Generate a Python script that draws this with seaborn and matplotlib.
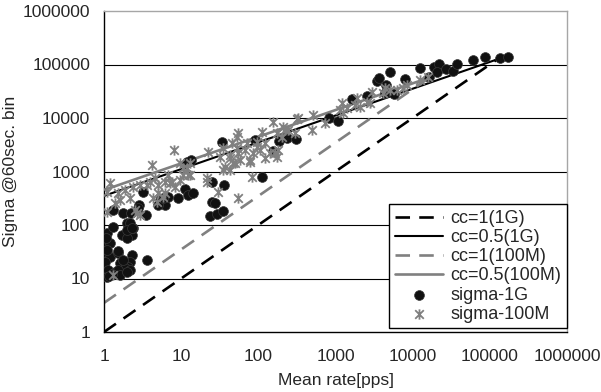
import numpy as np
import pandas as pd
import matplotlib
matplotlib.use("Agg")
import matplotlib.pyplot as plt
from matplotlib.path import Path
import seaborn as sns

# Fitted model lines (end points, straight in log-log space)
cc1_1g_x = [1, 125000]
cc1_1g_y = [1, 125000]
cc05_1g_x = [1, 125000]
cc05_1g_y = [350, 125000]
cc1_100m_x = [1, 16500]
cc1_100m_y = [3.5, 57000]
cc05_100m_x = [1, 16500]
cc05_100m_y = [450, 57000]

# Measured sigma of the 60 s bins, 1G link
sigma_1g_rate = [
    1.03, 1.2, 1.08, 1.2, 1.03, 1.53, 2.28, 2.17, 2.06, 1.61, 1.87, 1.76, 1.13,
    1.08, 1.39, 1.52, 1.61, 2.17, 1.97, 3.57, 1.69, 2.28, 1.97, 1.08, 1.32,
    1.99, 2.37, 2.17, 1.97, 2.28, 1.06, 1.08, 1.53, 1.26, 1.16,
    1.30, 1.74, 2.24, 2.84, 2.78, 3.5, 3.23, 5.3, 6.2, 6.7, 5.0, 5.8, 9.2,
    11.2, 12.2, 14.3, 11.9, 13.4, 33.5, 24.8, 35.8, 24.8, 27.4, 23.6, 28.8,
    34.5, 110, 90, 156, 187, 233, 307, 829, 1065, 1617, 2530, 3410, 3680,
    4500, 5070, 5710, 4365, 7930, 12400, 16200, 18800, 22000, 20400, 26900,
    32900, 37000, 60800, 86100, 135000, 173000,
]
sigma_1g_val = [
    42, 46, 30, 25.5, 20.6, 30, 27.5, 20.6, 16.6, 19.5, 15.7, 22, 14.4,
    10.8, 13.4, 14.4, 11.6, 14.4, 13.4, 22, 65, 65, 56, 70, 91,
    109, 88, 107, 81, 87, 56, 34, 32, 12.2, 11.0,
    191, 165, 169, 237, 205, 154, 414, 293, 237, 334, 237, 320, 320,
    461, 364, 391, 1506, 1640, 3510, 645, 560, 273, 255, 147, 161,
    185, 800, 3880, 2420, 3770, 4170, 4000, 9870, 8790, 22400, 25800, 49800, 55200,
    41400, 71500, 28100, 29000, 53600, 84900, 59100, 91000, 102000, 71500, 81300,
    75600, 102000, 121000, 140000, 131000, 136000,
]

# Measured sigma of the 60 s bins, 100M link
sigma_100m_rate = [
    1.2, 1.08, 1.53, 1.87, 2.4, 2.93, 3.57, 3.94, 5.05, 7.16, 9.65, 12.4, 4.15,
    9.65, 8.07, 1.39, 1.08, 1.61, 2.17, 2.65, 4.35, 5.86, 4.82, 5.05, 6.17,
    8.3, 2.52, 2.93, 1.3, 21.4, 30.2, 55, 11.8, 36.9, 42.9, 57.8, 55, 110,
    156, 22.4, 13, 10.6, 13, 47.3, 35.1, 77.8, 122, 55, 67, 85.9, 105, 141,
    173, 70.5, 45.1, 35.1, 81.9, 31.8, 42.9, 122, 95, 313, 514, 490, 729,
    1200, 1393, 1783, 1140, 2790, 2940, 4150, 5070, 6190, 7530, 12400, 15900,
    52.4, 95, 77.8, 181, 42.9, 49.8, 52.4, 210, 244, 200, 1877, 2530, 4365,
    329, 2070, 1259, 173, 221, 298, 164, 8340, 21.4, 4.58, 6.17, 7.54, 6.8,
    10.6,
]
sigma_100m_val = [
    601, 419, 391, 451, 520, 560, 560, 645, 560, 601, 693, 860, 1322,
    1422, 2523, 255, 177, 293, 315, 165, 315, 338, 273, 391, 391,
    520, 191, 154, 11.6, 746, 419, 315, 1148, 1230, 2033, 1640, 5180, 5550,
    8530, 2345, 1422, 1148, 860, 1422, 1067, 1524, 1766, 2188, 2523, 2188, 2523, 2188,
    1890, 3365, 3365, 2716, 800, 1890, 1766, 3365, 3606, 9460, 11380, 5970, 8170,
    18800, 15200, 17500, 14100, 18800, 31000, 29000, 33400, 33400, 35900, 51300, 59100,
    2716, 2910, 1640, 2523, 1067, 1422, 4470, 6870, 5970, 4470, 23400, 20200, 35900,
    9870, 16300, 12200, 5180, 5970, 5180, 2188, 41400, 645, 746, 645, 645, 860,
    860,
]

decades = [1, 10, 100, 1000, 10000, 100000, 1000000]
decade_labels = ["1", "10", "100", "1000", "10000", "100000", "1000000"]

sns.set_style("white")
plt.rcParams["font.family"] = ["Liberation Sans", "DejaVu Sans"]

fig = plt.figure(figsize=(6.01, 3.92), dpi=100)
ax = fig.add_axes([104 / 601, 1 - 332 / 392, 463 / 601, 321 / 392])

black = "#000000"
gray = "#808080"

sns.lineplot(x=cc1_1g_x, y=cc1_1g_y, ax=ax, color=black, lw=1.9,
             linestyle=(0, (5.5, 3.5)), label="cc=1(1G)")
sns.lineplot(x=cc05_1g_x, y=cc05_1g_y, ax=ax, color=black, lw=1.5,
             label="cc=0.5(1G)")
sns.lineplot(x=cc1_100m_x, y=cc1_100m_y, ax=ax, color=gray, lw=1.9,
             linestyle=(0, (5.5, 3.5)), label="cc=1(100M)")
sns.lineplot(x=cc05_100m_x, y=cc05_100m_y, ax=ax, color=gray, lw=1.9,
             label="cc=0.5(100M)")

sns.scatterplot(x=sigma_1g_rate, y=sigma_1g_val, ax=ax, color="#111111",
                edgecolor="#3a3a3a", linewidth=0.5, s=50, marker="o",
                label="sigma-1G", zorder=3)

# asterisk marker: an "x" crossed by a vertical bar
asterisk = Path(
    [(-1, -1), (1, 1), (-1, 1), (1, -1), (0, -1.2), (0, 1.2)],
    [Path.MOVETO, Path.LINETO, Path.MOVETO, Path.LINETO, Path.MOVETO, Path.LINETO],
)
sns.scatterplot(x=sigma_100m_rate, y=sigma_100m_val, ax=ax, color=gray,
                edgecolor=gray, linewidth=1.3, s=55, marker=asterisk,
                label="sigma-100M", zorder=4)

ax.set_xscale("log")
ax.set_yscale("log")
ax.set_xlim(1, 1e6)
ax.set_ylim(1, 1e6)
ax.set_xticks(decades, decade_labels)
ax.set_yticks(decades, decade_labels)
ax.minorticks_off()

for d in decades[1:-1]:
    ax.axhline(d, color="#000000", lw=0.8, zorder=1)

for side in ("left", "bottom"):
    ax.spines[side].set_color("#000000")
    ax.spines[side].set_linewidth(1.0)
for side in ("top", "right"):
    ax.spines[side].set_color("#a6a6a6")
    ax.spines[side].set_linewidth(1.0)

ax.tick_params(axis="x", direction="in", length=5, width=1, color="#000000",
               labelsize=12.5, pad=12)
ax.tick_params(axis="y", length=0, labelsize=12.5, pad=10)

ax.set_xlabel("Mean rate[pps]", fontsize=12.5, labelpad=7)
ax.set_ylabel("Sigma @60sec. bin", fontsize=12.5, labelpad=3)

leg = ax.legend(loc="lower right", bbox_to_anchor=(1.0, 0.012), borderaxespad=0,
                fontsize=13, frameon=True, fancybox=False, framealpha=1,
                edgecolor="#000000", handlelength=2.7, handletextpad=0.4,
                labelspacing=0.12, borderpad=0.3)
leg.get_frame().set_linewidth(1.0)

fig.savefig("out.png", dpi=100)
